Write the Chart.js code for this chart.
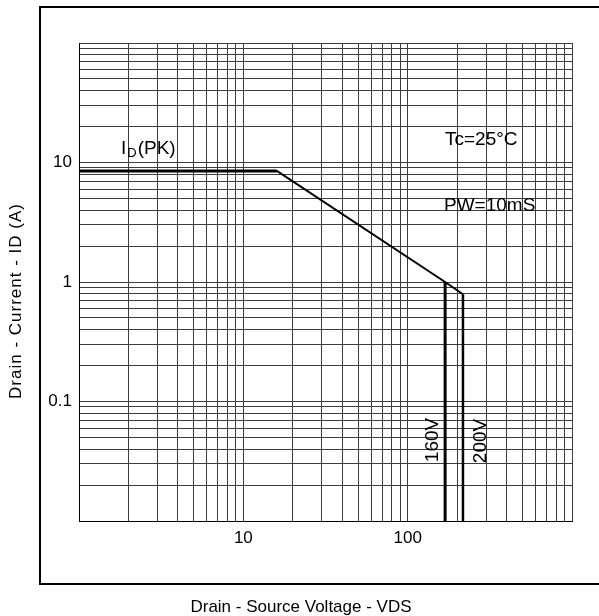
<!DOCTYPE html>
<html>
<head>
<meta charset="utf-8">
<script src="https://cdn.jsdelivr.net/npm/chart.js@4"></script>
<style>
  html, body { margin: 0; padding: 0; background: #fff; }
</style>
</head>
<body>
<canvas id="soaChart" width="599" height="616"></canvas>
<script>
// safe operating area
const limitV = [1, 16, 169, 217];       // drain-source voltage (V)
const limitI = [8.5, 8.5, 1.0, 0.79];   // drain current (A)
const breakdownV = [169, 217];          // the 160V / 200V drops
const breakdownI = [1.0, 0.79];
const floorI = 0.01;
const xTickLabels = [10, 100];
const yTickLabels = [0.1, 1, 10];
const xRange = [1, 1000];
const yRange = [0.01, 100];

const FONT = "'Liberation Sans', Arial, sans-serif";

function pts(xs, ys) {
  return xs.map((x, i) => ({ x: x, y: ys[i] }));
}

// one grid line per 1..9 step of every decade
function logGrid(scale) {
  const ticks = [];
  const lo = Math.round(Math.log10(scale.min));
  const hi = Math.round(Math.log10(scale.max));
  for (let e = lo; e < hi; e++) {
    for (let m = 1; m < 10; m++) {
      ticks.push({ value: Number((m * Math.pow(10, e)).toPrecision(3)), major: m === 1 });
    }
  }
  ticks.push({ value: Math.pow(10, hi), major: true });
  scale.ticks = ticks;
}

const frameAndNotes = {
  id: 'frameAndNotes',
  beforeDraw(chart) {
    const ctx = chart.ctx;
    ctx.save();
    ctx.fillStyle = '#fff';
    ctx.fillRect(0, 0, chart.width, chart.height);
    ctx.restore();
  },
  afterDraw(chart) {
    const ctx = chart.ctx;
    ctx.save();
    // outer frame (right side runs off the page)
    ctx.strokeStyle = '#000';
    ctx.lineWidth = 2;
    ctx.beginPath();
    ctx.moveTo(chart.width + 5, 7);
    ctx.lineTo(40, 7);
    ctx.lineTo(40, 584);
    ctx.lineTo(chart.width + 5, 584);
    ctx.stroke();

    ctx.fillStyle = '#000';
    ctx.textBaseline = 'alphabetic';
    ctx.textAlign = 'left';

    // I_D(PK)
    ctx.font = '19px ' + FONT;
    let x = 121;
    ctx.fillText('I', x, 154);
    x += ctx.measureText('I').width + 1;
    ctx.font = '13px ' + FONT;
    ctx.fillText('D', x, 157);
    x += ctx.measureText('D').width + 1;
    ctx.font = '19px ' + FONT;
    ctx.fillText('(PK)', x, 154);

    ctx.fillText('Tc=25°C', 445, 145);
    ctx.fillText('PW=10mS', 444, 211);

    // rotated voltage labels
    ctx.textAlign = 'center';
    [['160V', 438, 440], ['200V', 486, 441]].forEach(([t, tx, ty]) => {
      ctx.save();
      ctx.translate(tx, ty);
      ctx.rotate(-Math.PI / 2);
      ctx.fillText(t, 0, 0);
      ctx.restore();
    });

    // axis titles
    ctx.font = '17px ' + FONT;
    ctx.save();
    ctx.translate(21, 301);
    ctx.rotate(-Math.PI / 2);
    ctx.letterSpacing = '1px';
    ctx.fillText('Drain - Current - ID (A)', 0, 0);
    ctx.restore();
    ctx.fillText('Drain - Source Voltage - VDS', 301, 612);
    ctx.restore();
  }
};

const ctx = document.getElementById('soaChart').getContext('2d');
const soaChart = new Chart(ctx, {
  type: 'scatter',
  data: {
    datasets: [
      {
        label: 'ID(PK)',
        data: pts(limitV.slice(0, 2), limitI.slice(0, 2)),
        borderWidth: 3
      },
      {
        label: 'PW=10mS',
        data: pts(limitV.slice(1), limitI.slice(1)),
        borderWidth: 2
      },
      {
        label: '160V',
        data: pts([breakdownV[0], breakdownV[0]], [breakdownI[0], floorI]),
        borderWidth: 3
      },
      {
        label: '200V',
        data: pts([breakdownV[1], breakdownV[1]], [breakdownI[1], floorI]),
        borderWidth: 2.5
      }
    ].map(d => Object.assign(d, {
      showLine: true,
      borderColor: '#000',
      backgroundColor: '#000',
      pointRadius: 0,
      tension: 0
    }))
  },
  options: {
    responsive: false,
    animation: false,
    devicePixelRatio: 1,
    layout: { padding: { top: 43, right: 27, left: 0, bottom: 0 } },
    plugins: {
      legend: { display: false },
      tooltip: { enabled: false }
    },
    scales: {
      x: {
        type: 'logarithmic',
        min: xRange[0],
        max: xRange[1],
        afterBuildTicks: logGrid,
        afterFit: scale => { scale.height = 95; },
        grid: { color: '#3c3c3c', lineWidth: 1, drawTicks: false },
        border: { display: true, color: '#000', width: 1 },
        ticks: {
          autoSkip: false,
          maxRotation: 0,
          padding: 7,
          color: '#000',
          font: { family: FONT, size: 17 },
          callback: v => xTickLabels.includes(v) ? String(v) : ''
        }
      },
      y: {
        type: 'logarithmic',
        min: yRange[0],
        max: yRange[1],
        afterBuildTicks: logGrid,
        afterFit: scale => { scale.width = 79; },
        grid: { color: '#3c3c3c', lineWidth: 1, drawTicks: false },
        border: { display: true, color: '#000', width: 1 },
        ticks: {
          autoSkip: false,
          padding: 7,
          color: '#000',
          font: { family: FONT, size: 17 },
          callback: v => yTickLabels.includes(v) ? String(v) : ''
        }
      }
    }
  },
  plugins: [frameAndNotes]
});
</script>
</body>
</html>
